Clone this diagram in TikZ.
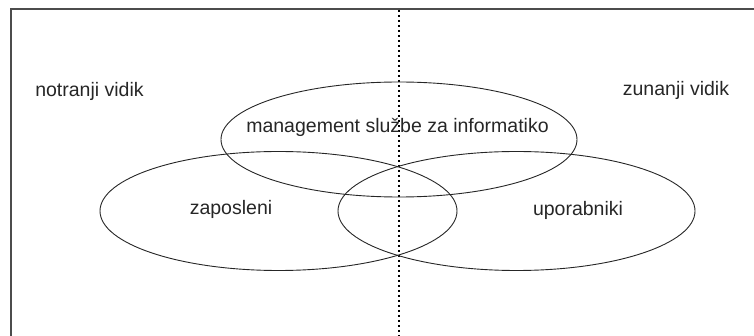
\documentclass[tikz,border=0pt]{standalone}
\usepackage{fontspec}
\setmainfont{Liberation Sans}
\usetikzlibrary{shapes.geometric}
\begin{document}
\begin{tikzpicture}[x=1pt,y=-1pt,
  ring/.style={ellipse,draw=black!85,line width=0.9pt,inner sep=0pt},
  caption/.style={font=\fontsize{19.5}{23}\selectfont,text=black!85,inner sep=0pt,anchor=base}]
\useasboundingbox (0,0) rectangle (754,336);
% frame (only the top and left edges lie inside the picture)
\draw[black!70,line width=1.3pt] (11,336) -- (11,9) -- (754,9);
% vertical divider between inner and outer view
\draw[black,line width=1.6pt,dash pattern=on 1.6pt off 3.4pt] (399,10) -- (399,336);
% the three overlapping areas
\node[ring,minimum width=356pt,minimum height=115pt] (mgmt) at (399,139.5) {};
\node[ring,minimum width=357pt,minimum height=119pt] (staff) at (278.5,211) {};
\node[ring,minimum width=357pt,minimum height=119pt] (users) at (516.5,211) {};
% labels
\node[caption] (inner) at (89.5,97) {notranji vidik};
\node[caption] (outer) at (676,96) {zunanji vidik};
\node[caption] (mgmtlabel) at (397.5,133) {management službe za informatiko};
\node[caption] (stafflabel) at (231,215) {zaposleni};
\node[caption] (userslabel) at (578,216) {uporabniki};
\end{tikzpicture}
\end{document}
